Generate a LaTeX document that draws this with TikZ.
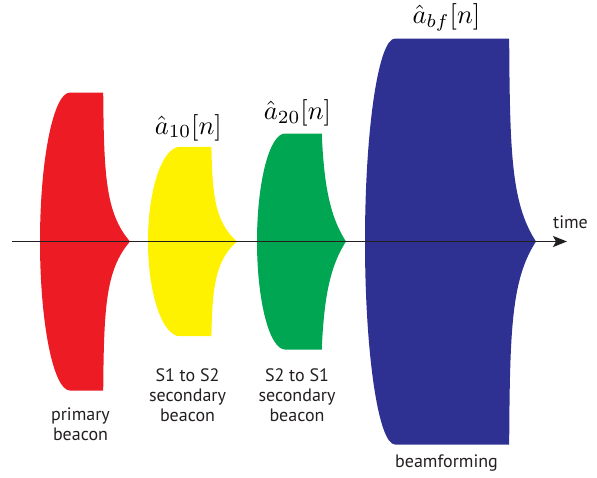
\documentclass[tikz,border=0pt]{standalone}
\usepackage{fontspec}
\setmainfont{PT Sans}
\usetikzlibrary{arrows.meta}
\definecolor{pred}{HTML}{ED1C24}
\definecolor{pyellow}{HTML}{FFF200}
\definecolor{pgreen}{HTML}{00A651}
\definecolor{pblue}{HTML}{2E3192}
\definecolor{ink}{HTML}{231F20}
% pulse: #1 colour, #2 L, #3 A, #4 R, #5 w (tip-R), #6 h, #7 lambda
\newcommand{\mypulse}[7]{%
  \fill[#1] (#2,241.5) .. controls (#2,{241.5-0.5523*#6}) and ({#3-0.5523*(#3-#2)},{241.5-#6}) .. (#3,{241.5-#6})
    -- (#4,{241.5-#6})
    -- plot[domain=#6:0,samples=60] ({#4+#5*exp(-\x/#7)},{241.5-\x})
    -- plot[domain=0:#6,samples=60] ({#4+#5*exp(-\x/#7)},{241.5+\x})
    -- (#4,{241.5+#6}) -- (#3,{241.5+#6})
    .. controls ({#3-0.5523*(#3-#2)},{241.5+#6}) and (#2,{241.5+0.5523*#6}) .. cycle;}
\tikzset{
  lab/.style={text=ink,font=\fontsize{18}{20}\selectfont,align=center,inner sep=0pt},
  mathlab/.style={text=black,font=\fontsize{10}{12}\selectfont,inner sep=0pt,anchor=base,scale=2.65},
}
\begin{document}
\begin{tikzpicture}[x=1pt,y=-1pt]
\useasboundingbox (0,0) rectangle (597,477);
\mypulse{pred}{40}{70}{103}{27}{149}{31}
\mypulse{pyellow}{148}{180}{211}{26}{94.7}{23}
\mypulse{pgreen}{257}{285}{320}{26}{108}{40}
\mypulse{pblue}{365}{395}{509}{27}{203}{41}
\coordinate (axs) at (12,241.5);
\coordinate (axe) at (567,241.5);
\draw[ink,line width=1.3pt,-{Stealth[length=14pt,width=11pt,inset=3pt]}] (axs) -- (axe);
\node[mathlab] (m1) at (188.3,134) {$\hat{a}_{10}[n]$};
\node[mathlab] (m2) at (297.5,119.5) {$\hat{a}_{20}[n]$};
\node[mathlab] (m3) at (446.5,23.4) {$\hat{a}_{bf}[n]$};
\node[lab,anchor=base] (t) at (570.5,228) {time};
\node[lab,anchor=base] (l1) at (80.5,440) {primary\\beacon};
\node[lab,anchor=base] (l2) at (187.5,421) {S1 to S2\\secondary\\beacon};
\node[lab,anchor=base] (l3) at (297,421) {S2 to S1\\secondary\\beacon};
\node[lab,anchor=base] (l4) at (446.5,467) {beamforming};
\end{tikzpicture}
\end{document}
